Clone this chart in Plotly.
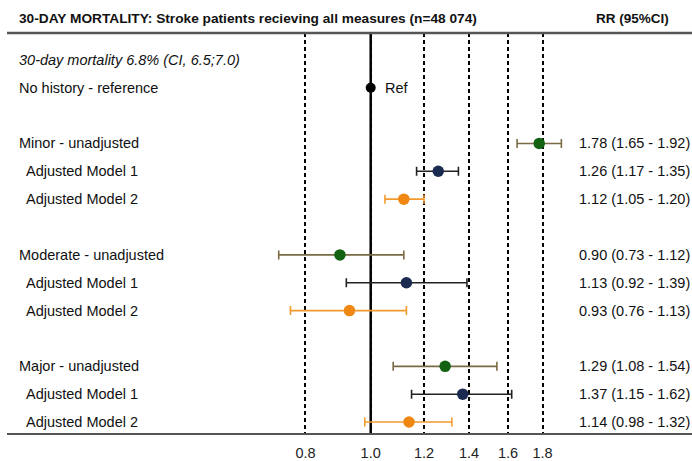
import numpy as np
import plotly.graph_objects as go

# ---------------- data ----------------
row_labels = ["30-day mortality 6.8% (CI, 6.5;7.0)", "No history - reference", "",
              "Minor - unadjusted", "Adjusted Model 1", "Adjusted Model 2", "",
              "Moderate - unadjusted", "Adjusted Model 1", "Adjusted Model 2", "",
              "Major - unadjusted", "Adjusted Model 1", "Adjusted Model 2"]

groups = ["Minor", "Moderate", "Major"]

unadj_rr = [1.78, 0.90, 1.29]
unadj_lo = [1.65, 0.73, 1.08]
unadj_hi = [1.92, 1.12, 1.54]

m1_rr = [1.26, 1.13, 1.37]
m1_lo = [1.17, 0.92, 1.15]
m1_hi = [1.35, 1.39, 1.62]

m2_rr = [1.12, 0.93, 1.14]
m2_lo = [1.05, 0.76, 0.98]
m2_hi = [1.20, 1.13, 1.32]

ref_rr = 1.0
tick_vals = [0.8, 1.0, 1.2, 1.4, 1.6, 1.8]
tick_text = ["0.8", "1.0", "1.2", "1.4", "1.6", "1.8"]

title_text = "30-DAY MORTALITY: Stroke patients recieving all measures (n=48 074)"
col_header = "RR (95%CI)"

# ---------------- layout helpers ----------------
W, H = 692, 461
ML, MR, MT, MB = 7, 0, 33, 26
PW = W - ML - MR
PH = H - MT - MB
FONT = "Liberation Sans, Arial, sans-serif"
FS = 14.5

def px2paper(px):
    return (px - ML) / PW

rows_unadj = [3, 7, 11]
rows_m1 = [4, 8, 12]
rows_m2 = [5, 9, 13]

fig = go.Figure()

def add_series(rr, lo, hi, rows, mcolor, ecolor):
    rr = np.array(rr); lo = np.array(lo); hi = np.array(hi)
    fig.add_trace(go.Scatter(
        x=rr, y=rows, mode="markers",
        marker=dict(size=11.5, color=mcolor),
        error_x=dict(type="data", symmetric=False, array=hi - rr, arrayminus=rr - lo,
                     color=ecolor, thickness=1.6, width=4.5),
        showlegend=False, hoverinfo="x+y"))

# reference vertical solid line at 1.0
fig.add_trace(go.Scatter(x=[ref_rr, ref_rr], y=[-0.964, 13.393], mode="lines",
                         line=dict(color="black", width=2.5), showlegend=False,
                         hoverinfo="skip"))

add_series(unadj_rr, unadj_lo, unadj_hi, rows_unadj, "#126212", "#7a6a45")
add_series(m1_rr, m1_lo, m1_hi, rows_m1, "#1b2a50", "#222222")
add_series(m2_rr, m2_lo, m2_hi, rows_m2, "#ef8712", "#f39a2e")

# reference point
fig.add_trace(go.Scatter(x=[ref_rr], y=[1], mode="markers",
                         marker=dict(size=10, color="black"), showlegend=False))

annotations = []
# title & header
annotations.append(dict(text="<b>" + title_text + "</b>", x=px2paper(17), y=1 + (MT - 18) / PH,
                        xref="paper", yref="paper", xanchor="left", yanchor="middle",
                        showarrow=False, font=dict(size=13.7, color="#111", family=FONT)))
annotations.append(dict(text="<b>" + col_header + "</b>", x=px2paper(671), y=1 + (MT - 18) / PH,
                        xref="paper", yref="paper", xanchor="right", yanchor="middle",
                        showarrow=False, font=dict(size=13.5, color="#111", family=FONT)))

for i, lab in enumerate(row_labels):
    if not lab:
        continue
    indent = 24 if lab.startswith("Adjusted") else 17
    txt = "<i>" + lab + "</i>" if i == 0 else lab
    annotations.append(dict(text=txt, x=px2paper(indent), y=i, xref="paper", yref="y",
                            xanchor="left", yanchor="middle", showarrow=False,
                            font=dict(size=FS, color="#111", family=FONT)))

def fmt(r, l, h):
    return f"{r:.2f} ({l:.2f} - {h:.2f})"

for rr, lo, hi, rows in [(unadj_rr, unadj_lo, unadj_hi, rows_unadj),
                         (m1_rr, m1_lo, m1_hi, rows_m1),
                         (m2_rr, m2_lo, m2_hi, rows_m2)]:
    for r, l, h, row in zip(rr, lo, hi, rows):
        annotations.append(dict(text=fmt(r, l, h), x=px2paper(692), y=row, xref="paper", yref="y",
                                xanchor="right", yanchor="middle", showarrow=False,
                                font=dict(size=FS, color="#111", family=FONT)))

annotations.append(dict(text="Ref", x=px2paper(383), y=1, xref="paper", yref="y",
                        xanchor="left", yanchor="middle", showarrow=False,
                        font=dict(size=FS, color="#111", family=FONT)))

x0 = (ML - 370.7) / 673.0
x1 = (W - MR - 370.7) / 673.0

fig.update_layout(
    width=W, height=H,
    margin=dict(l=ML, r=MR, t=MT, b=MB, pad=0),
    paper_bgcolor="white", plot_bgcolor="white",
    font=dict(family=FONT, size=FS, color="#111"),
    annotations=annotations,
    xaxis=dict(type="log", range=[x0, x1], tickvals=tick_vals, ticktext=tick_text,
               showgrid=True, gridcolor="black", gridwidth=1.6, griddash="4px,3px",
               showline=True, linecolor="#555", linewidth=1.5, zeroline=False,
               ticks="", ticklabelstandoff=6,
               tickfont=dict(size=FS, color="#222", family=FONT), fixedrange=True),
    yaxis=dict(range=[13.393, -0.964], showgrid=False, showticklabels=False,
               zeroline=False, showline=False, fixedrange=True),
    shapes=[dict(type="line", xref="paper", yref="paper", x0=0, x1=1, y0=1, y1=1,
                 line=dict(color="#555", width=2.5))],
    showlegend=False,
)

fig.write_html("out.html")
